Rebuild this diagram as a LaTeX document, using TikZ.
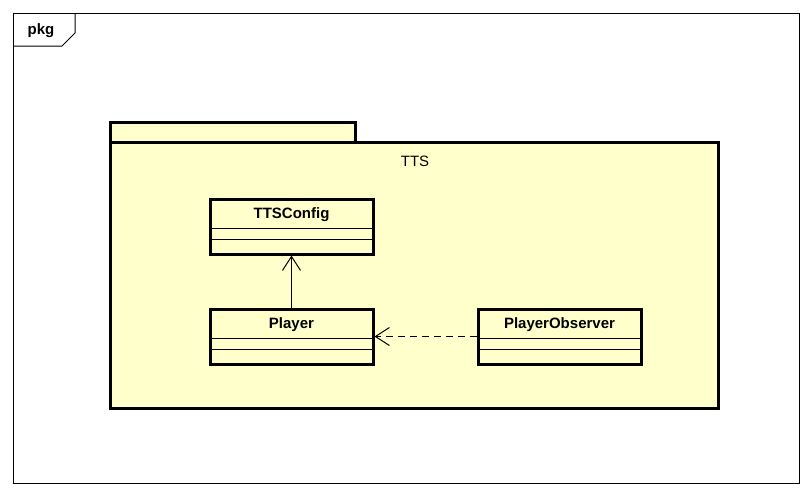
\documentclass[tikz,border=0pt]{standalone}
\usepackage{fontspec}
\setmainfont{Liberation Sans}
\usetikzlibrary{calc,arrows.meta}
\definecolor{pkgfill}{RGB}{255,255,204}
\tikzset{>={Straight Barb[length=14pt,width=18pt]}}

% class box with its name and two empty compartments
\newcommand{\umlclass}[4]{%
  \node[classbox] (#1) at (#2,#3) {};
  \node[classname] (#1-name) at ($(#1.north)+(0,17)$) {#4};
  \draw[line width=1pt] ($(#1.north west)+(0,31)$) -- ($(#1.north east)+(0,31)$);
  \draw[line width=1pt] ($(#1.north west)+(0,42)$) -- ($(#1.north east)+(0,42)$);
}

\begin{document}
\begin{tikzpicture}[x=1pt,y=-1pt,
    classbox/.style={draw,line width=3pt,fill=pkgfill,minimum width=163pt,minimum height=55pt,inner sep=0pt},
    classname/.style={inner sep=0pt,font=\bfseries\fontsize{15}{17}\selectfont},
    pkgline/.style={line width=3pt,fill=pkgfill}]
  \useasboundingbox (0,0) rectangle (812,496);
  % outer frame
  \draw[line width=1pt] (13,13) rectangle (799,483);
  \draw[line width=1pt] (13,46) -- (62,46) -- (75,33) -- (75,13);
  \node[classname] (frame-name) at (41,31) {pkg};
  % package TTS
  \draw[pkgline] (110,122) rectangle (355,142);
  \draw[pkgline] (110,142) rectangle (718,408);
  \node[inner sep=0pt,font=\fontsize{15}{17}\selectfont] (tts-name) at (415,161) {TTS};
  % classes
  \umlclass{ttsconfig}{291.5}{226.5}{TTSConfig}
  \umlclass{player}{291.5}{336.5}{Player}
  \umlclass{playerobserver}{559.5}{336.5}{PlayerObserver}
  % relations
  \draw[line width=1pt,->] (player) -- (ttsconfig);
  \draw[line width=1pt,->,dash pattern=on 7pt off 5pt] (playerobserver) -- (player);
\end{tikzpicture}
\end{document}
